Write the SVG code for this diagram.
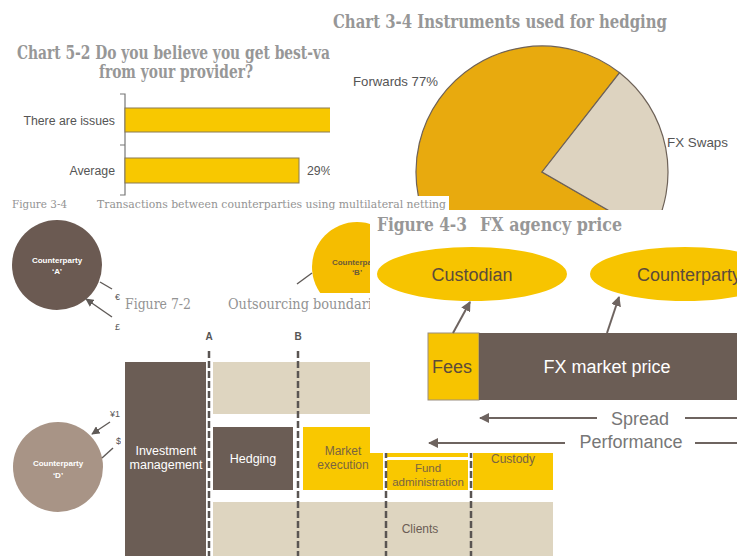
<svg xmlns="http://www.w3.org/2000/svg" width="737" height="556" viewBox="0 0 737 556">
<defs>
<style>
.ttl{font-family:"DejaVu Serif","Liberation Serif",serif;fill:#979797;font-weight:bold}
.ttn{font-family:"DejaVu Serif","Liberation Serif",serif;fill:#939393}
.s{font-family:"Liberation Sans",Arial,sans-serif}
.cp{font-family:"Liberation Sans",Arial,sans-serif;font-size:8px;font-weight:bold;text-anchor:middle}
.cur{font-family:"Liberation Sans",Arial,sans-serif;font-size:9px;fill:#555}
.dash{stroke:#5a5552;stroke-width:2.5;stroke-dasharray:7 3;fill:none}
.dk{fill:#6b5d55}
.bg{fill:#ded5c0}
.yl{fill:#f9c800}
.ln{stroke:#5f5a57;stroke-width:1.4;fill:none}
.al{stroke:#6e6460;stroke-width:2;fill:none}
</style>
<marker id="ah" viewBox="0 0 10 10" refX="9" refY="5" markerWidth="6" markerHeight="6" orient="auto"><path d="M0,0 L10,5 L0,10 Z" fill="#5f5a57"/></marker>
<marker id="ah2" viewBox="0 0 10 10" refX="9" refY="5" markerWidth="5" markerHeight="5" orient="auto"><path d="M0,0 L10,5 L0,10 Z" fill="#6e6460"/></marker>
<clipPath id="c34"><rect x="330" y="0" width="407" height="210"/></clipPath>
</defs>
<rect width="737" height="556" fill="#fff"/>

<!-- Chart 5-2 -->
<g id="chart-5-2">
<text class="ttl" x="17" y="59" font-size="18" textLength="313" lengthAdjust="spacingAndGlyphs">Chart 5-2 Do you believe you get best-va</text>
<text class="ttl" x="99" y="78" font-size="18" textLength="154" lengthAdjust="spacingAndGlyphs">from your provider?</text>
<path d="M120,94 H125 V195 H120 M120,145 H125" stroke="#777" stroke-width="1.2" fill="none"/>
<g id="bar-issues"><rect x="125" y="108" width="215" height="24" fill="#f8c800" stroke="#8a7a52" stroke-width="1"/>
<text class="s" x="115" y="125" font-size="12.3" fill="#555" text-anchor="end">There are issues</text></g>
<g id="bar-average"><rect x="125" y="158" width="174" height="25" fill="#f8c800" stroke="#8a7a52" stroke-width="1"/>
<text class="s" x="115" y="175" font-size="12.3" fill="#555" text-anchor="end">Average</text>
<text class="s" x="307" y="175" font-size="12.3" fill="#555">29%</text></g>
</g>

<!-- Chart 3-4 -->
<g id="chart-3-4">
<rect x="330" y="0" width="407" height="210" fill="#fff"/>
<text class="ttl" x="333" y="28" font-size="18" textLength="334" lengthAdjust="spacingAndGlyphs">Chart 3-4 Instruments used for hedging</text>
<g clip-path="url(#c34)">
<g id="slice-forwards"><path d="M542,172 L651.1,235 A126,126 0 1 1 619.6,72.7 Z" fill="#e8aa0e" stroke="#6e6258" stroke-width="1.2"/></g>
<g id="slice-swaps"><path d="M542,172 L619.6,72.7 A126,126 0 0 1 651.1,235 Z" fill="#ddd3c0" stroke="#6e6258" stroke-width="1.2"/></g>
</g>
<text class="s" x="353" y="86" font-size="13" fill="#555" textLength="85" lengthAdjust="spacingAndGlyphs">Forwards 77%</text>
<text class="s" x="667" y="147" font-size="13" fill="#555" textLength="61" lengthAdjust="spacingAndGlyphs">FX Swaps</text>
</g>

<!-- Figure 3-4 -->
<g id="figure-3-4">
<rect x="0" y="196" width="449" height="360" fill="#fff"/>
<text class="ttn" x="12" y="208" font-size="11.5" textLength="55" lengthAdjust="spacingAndGlyphs">Figure 3-4</text>
<text class="ttn" x="97" y="208" font-size="11.5" textLength="349" lengthAdjust="spacingAndGlyphs">Transactions between counterparties using multilateral netting</text>
<g id="cp-a"><circle cx="57" cy="265" r="45" fill="#6b5a52"/>
<text class="cp" x="57" y="263" fill="#fff">Counterparty</text><text class="cp" x="57" y="274" fill="#fff">‘A’</text></g>
<g id="cp-b"><circle cx="357" cy="267" r="45" fill="#f5bd00"/>
<text class="cp" x="357" y="265" fill="#6b5a3a">Counterparty</text><text class="cp" x="357" y="275" fill="#6b5a3a">‘B’</text></g>
<g id="cp-d"><circle cx="58" cy="467" r="45" fill="#a89486"/>
<text class="cp" x="58" y="466" fill="#fff">Counterparty</text><text class="cp" x="58" y="478" fill="#fff">‘D’</text></g>
<g id="netting-connectors">
<line class="ln" x1="100" y1="282" x2="112" y2="289"/>
<line class="ln" x1="112" y1="317" x2="86" y2="299" marker-end="url(#ah)"/>
<line class="ln" x1="110" y1="422" x2="92" y2="434" marker-end="url(#ah)"/>
<line class="ln" x1="113" y1="448" x2="102" y2="458"/>
<line class="ln" x1="297" y1="284" x2="312" y2="273"/>
</g>
<text class="cur" x="115" y="300">€</text>
<text class="cur" x="115" y="330">£</text>
<text class="cur" x="110" y="417">¥1</text>
<text class="cur" x="116" y="444">$</text>
<text class="cur" x="272" y="299" font-size="8">£125</text>
</g>

<!-- Figure 7-2 -->
<g id="figure-7-2">
<rect x="121" y="293" width="616" height="263" fill="#fff"/>
<text class="ttn" x="125" y="309" font-size="15" textLength="66" lengthAdjust="spacingAndGlyphs">Figure 7-2</text>
<text class="ttn" x="228" y="309" font-size="15" textLength="144" lengthAdjust="spacingAndGlyphs">Outsourcing boundari</text>
<text class="s" x="209" y="340" font-size="10" font-weight="bold" fill="#555" text-anchor="middle">A</text>
<text class="s" x="298" y="340" font-size="10" font-weight="bold" fill="#555" text-anchor="middle">B</text>
<rect class="bg" x="213" y="362" width="340" height="52"/>
<rect class="bg" x="213" y="502" width="340" height="54"/>
<g id="investment-management"><rect class="dk" x="125" y="362" width="81" height="194"/>
<text class="s" x="166" y="455" font-size="12.5" fill="#fff" text-anchor="middle">Investment</text>
<text class="s" x="166" y="469" font-size="12.5" fill="#fff" text-anchor="middle">management</text></g>
<g id="hedging"><rect class="dk" x="213" y="427" width="80" height="63"/>
<text class="s" x="253" y="463" font-size="12.5" fill="#fff" text-anchor="middle">Hedging</text></g>
<g id="market-execution"><rect class="yl" x="303" y="427" width="80" height="63"/>
<text class="s" x="343" y="455" font-size="12" fill="#7a6540" text-anchor="middle">Market</text>
<text class="s" x="343" y="469" font-size="12" fill="#7a6540" text-anchor="middle">execution</text></g>
<rect class="yl" x="387" y="427" width="81" height="30"/>
<g id="fund-administration"><rect class="yl" x="387" y="460" width="81" height="30"/>
<text class="s" x="428" y="472" font-size="11.5" fill="#7a6540" text-anchor="middle">Fund</text>
<text class="s" x="428" y="486" font-size="11.5" fill="#7a6540" text-anchor="middle">administration</text></g>
<g id="custody"><rect class="yl" x="473" y="427" width="80" height="63"/>
<text class="s" x="513" y="463" font-size="12" fill="#7a6540" text-anchor="middle">Custody</text></g>
<g id="clients"><text class="s" x="420" y="533" font-size="12" fill="#6b5d55" text-anchor="middle">Clients</text></g>
<g id="boundaries">
<line class="dash" x1="209" y1="351" x2="209" y2="556"/>
<line class="dash" x1="298" y1="351" x2="298" y2="556"/>
<line class="dash" x1="386" y1="351" x2="386" y2="556"/>
<line class="dash" x1="471" y1="351" x2="471" y2="556"/>
</g>
</g>

<!-- Figure 4-3 -->
<g id="figure-4-3">
<rect x="370" y="210" width="367" height="243" fill="#fff"/>
<text class="ttl" x="377" y="231" font-size="18" textLength="90" lengthAdjust="spacingAndGlyphs">Figure 4-3</text>
<text class="ttl" x="480" y="231" font-size="18" textLength="142" lengthAdjust="spacingAndGlyphs">FX agency price</text>
<g id="custodian"><ellipse cx="472" cy="274" rx="95" ry="27" fill="#f7c400"/>
<text class="s" x="472" y="281" font-size="18" fill="#5c4b3a" text-anchor="middle">Custodian</text></g>
<g id="counterparty"><ellipse cx="685" cy="274" rx="95" ry="27" fill="#f7c400"/>
<text class="s" x="637" y="281" font-size="18" fill="#5c4b3a">Counterparty</text></g>
<g id="fees"><rect x="428" y="333" width="51" height="67" fill="#f7c400" stroke="#9a8e80" stroke-width="1"/>
<text class="s" x="452" y="373" font-size="18" fill="#5c4b3a" text-anchor="middle">Fees</text></g>
<g id="fx-market-price"><rect class="dk" x="479" y="333" width="260" height="67"/>
<text class="s" x="607" y="373" font-size="18" fill="#fff" text-anchor="middle">FX market price</text></g>
<g id="agency-connectors">
<line class="al" x1="453" y1="333" x2="470" y2="302" marker-end="url(#ah2)" stroke-width="1.6"/>
<line class="al" x1="607" y1="333" x2="619" y2="297" marker-end="url(#ah2)" stroke-width="1.6"/>
<line class="al" x1="597" y1="418" x2="480" y2="418" marker-end="url(#ah2)"/>
<line class="al" x1="685" y1="418" x2="737" y2="418"/>
<line class="al" x1="565" y1="443" x2="429" y2="443" marker-end="url(#ah2)"/>
<line class="al" x1="695" y1="443" x2="737" y2="443"/>
</g>
<text class="s" x="640" y="425" font-size="18" fill="#777" text-anchor="middle">Spread</text>
<text class="s" x="631" y="448" font-size="18" fill="#777" text-anchor="middle">Performance</text>
</g>
</svg>
